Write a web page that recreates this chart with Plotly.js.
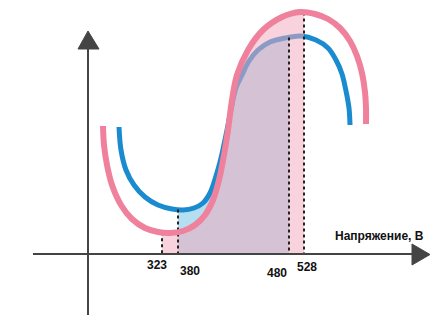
<!DOCTYPE html>
<html>
<head>
<meta charset="utf-8">
<script src="https://cdn.plot.ly/plotly-3.0.1.min.js"></script>
<style>html,body{margin:0;padding:0;background:#fff;}#chart{width:446px;height:315px;}</style>
</head>
<body>
<div id="chart"></div>
<script>
// Schematic curves (diagram coordinates, y grows downward)
var pinkX = [103,104,107,112,121,132,145,158,170,183,195,205,213,219,224,228,232,237,248,263,282,300,315,328,340,350,357,362,365,366,366];
var pinkY = [126,145,165,185,205,219,228,232,233,231,225,215,200,180,155,130,100,75,50,30,17,12,14,19,28,41,56,73,92,108,124];
var blueX = [119,121,126,134,145,158,172,183,194,203,210,216,221,226,231,236,242,249,258,270,285,301,316,328,336,342,346,349,350];
var blueY = [127,150,170,185,197,205,209,210,208,203,193,176,158,135,110,88,75,61,50,42,38,36,40,48,60,74,91,108,125];
// Voltage marks
var tickLabels = ["323","380","480","528"];
var tickPosX = [162,178,289,304];
var tickCurve = ["pink","blue","blue","pink"];
var axisLabel = "Напряжение, В";
var baseY = 254;

function interp(xs, ys, x){
  for (var i=0;i<xs.length-1;i++){
    if (x>=xs[i] && x<=xs[i+1]){
      var t=(x-xs[i])/(xs[i+1]-xs[i]); return ys[i]+t*(ys[i+1]-ys[i]);
    }
  }
  return ys[ys.length-1];
}
function region(xs, ys, x0, x1){
  var px=[x0], py=[interp(xs,ys,x0)];
  for (var i=0;i<xs.length;i++){ if (xs[i]>x0 && xs[i]<x1){ px.push(xs[i]); py.push(ys[i]); } }
  px.push(x1); py.push(interp(xs,ys,x1));
  px.push(x1, x0, x0); py.push(baseY, baseY, py[0]);
  return {x:px, y:py};
}
var blueReg = region(blueX, blueY, tickPosX[1], tickPosX[2]);
var pinkReg = region(pinkX, pinkY, tickPosX[0], tickPosX[3]);

var traces = [];
traces.push({x:blueReg.x, y:blueReg.y, mode:'lines', fill:'toself', fillcolor:'#b4dff1', line:{width:0}, hoverinfo:'skip'});
traces.push({x:blueX, y:blueY, mode:'lines', line:{color:'#1a8bcf', width:5, shape:'spline'}, hoverinfo:'skip'});
traces.push({x:pinkReg.x, y:pinkReg.y, mode:'lines', fill:'toself', fillcolor:'rgba(241,170,189,0.53)', line:{width:0}, hoverinfo:'skip'});
for (var k=0;k<tickPosX.length;k++){
  var cx = tickCurve[k]==='pink'? pinkX : blueX;
  var cy = tickCurve[k]==='pink'? pinkY : blueY;
  traces.push({x:[tickPosX[k], tickPosX[k]], y:[interp(cx,cy,tickPosX[k]), baseY], mode:'lines', line:{color:'#222', width:2, dash:'dot'}, hoverinfo:'skip'});
}
traces.push({x:pinkX, y:pinkY, mode:'lines', line:{color:'#ef819c', width:6, shape:'spline'}, hoverinfo:'skip'});

var labelOffX = [-5, 12, -12, 3];
var labelY = [265, 271, 273, 267];
var annotations = tickLabels.map(function(t,i){
  return {x:tickPosX[i]+labelOffX[i], y:labelY[i], text:t, showarrow:false, xanchor:'center', yanchor:'middle',
    font:{family:'Liberation Sans, Arial, sans-serif', size:12, color:'#111', weight:'bold'}};
});
annotations.push({x:333, y:236, text:axisLabel, showarrow:false, xanchor:'left', yanchor:'middle',
  font:{family:'Liberation Sans, Arial, sans-serif', size:12, color:'#111', weight:'bold'}});

var axisColor = '#444';
var shapes = [
  {type:'line', x0:33, y0:baseY, x1:414, y1:baseY, line:{color:axisColor, width:2}},
  {type:'path', path:'M 412 244 L 430 254.5 L 412 265 Z', fillcolor:axisColor, line:{color:axisColor, width:1}},
  {type:'line', x0:88, y0:315, x1:88, y1:48, line:{color:axisColor, width:2}},
  {type:'path', path:'M 78 49 L 88 31 L 99 49 Z', fillcolor:axisColor, line:{color:axisColor, width:1}}
];

var layout = {
  width:446, height:315, margin:{l:0,r:0,t:0,b:0}, showlegend:false,
  paper_bgcolor:'#fff', plot_bgcolor:'#fff',
  xaxis:{range:[0,446], visible:false, fixedrange:true},
  yaxis:{range:[315,0], visible:false, fixedrange:true},
  shapes:shapes, annotations:annotations
};
Plotly.newPlot('chart', traces, layout, {displayModeBar:false, staticPlot:true});
</script>
</body>
</html>
